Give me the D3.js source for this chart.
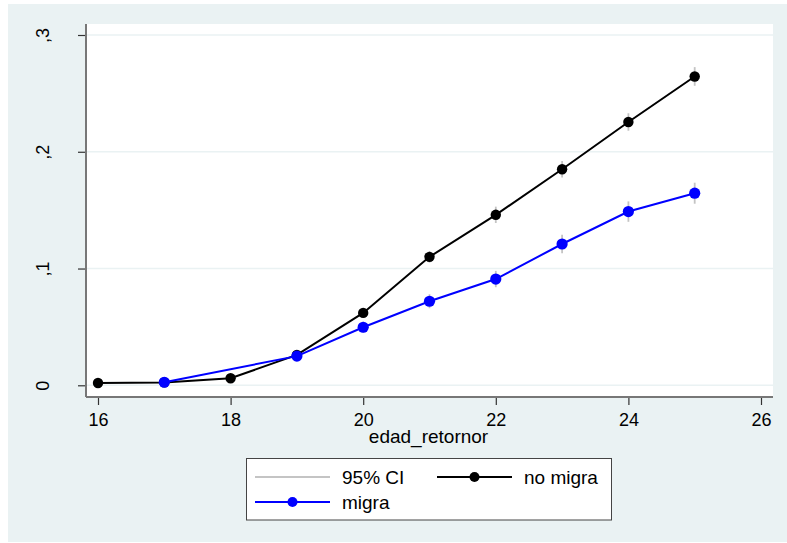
<!DOCTYPE html>
<html>
<head>
<meta charset="utf-8">
<script src="https://cdn.jsdelivr.net/npm/d3@7"></script>
<style>
  body { margin: 0; background: #fff; }
  svg { display: block; font-family: "Liberation Sans", Arial, sans-serif; }
</style>
</head>
<body>
<div id="chart"></div>
<script>
// chart size
const width = 787;
const height = 543;
const plot = {left: 86, right: 773, top: 24, bottom: 397};

// data
const ages = [16, 17, 18, 19, 20, 21, 22, 23, 24, 25];
const noMigra   = [0.002, 0.0025, 0.006, 0.026, 0.062, 0.110, 0.146, 0.185, 0.2255, 0.2645];
const noMigraLo = [0.001, 0.0015, 0.004, 0.023, 0.058, 0.105, 0.139, 0.178, 0.218, 0.2565];
const noMigraHi = [0.003, 0.0035, 0.008, 0.029, 0.066, 0.115, 0.153, 0.192, 0.233, 0.2725];

const migraAges = [17, 19, 20, 21, 22, 23, 24, 25];
const migra   = [0.0026, 0.025, 0.0497, 0.072, 0.091, 0.121, 0.1488, 0.1645];
const migraLo = [0.0006, 0.021, 0.045, 0.066, 0.084, 0.113, 0.140, 0.1555];
const migraHi = [0.0046, 0.029, 0.0545, 0.078, 0.098, 0.129, 0.1575, 0.1735];

const xTicks = [16, 18, 20, 22, 24, 26];
const yTicks = [0, 0.1, 0.2, 0.3];

const seriesNames = ["no migra", "migra"];
const ciLabel = "95% CI";
const xTitle = "edad_retornor";

const svg = d3.select("#chart")
  .append("svg")
  .attr("width", width)
  .attr("height", height);

// outer graph region
svg.append("rect")
  .attr("x", 8).attr("y", 4)
  .attr("width", width - 8).attr("height", 538)
  .attr("fill", "#EAF2F3");

// plot region
svg.append("rect")
  .attr("x", plot.left).attr("y", plot.top)
  .attr("width", plot.right - plot.left).attr("height", plot.bottom - plot.top)
  .attr("fill", "#fff");

let xScale = d3.scaleLinear().domain([16, 26]).range([98, 761]);
let yScale = d3.scaleLinear().domain([0, 0.3]).range([385.3, 35]);

// gridlines
svg.append("g")
  .selectAll("line")
  .data(yTicks)
  .enter()
  .append("line")
    .attr("x1", plot.left).attr("x2", plot.right)
    .attr("y1", d => yScale(d)).attr("y2", d => yScale(d))
    .attr("stroke", "#EAF2F3")
    .attr("stroke-width", 1.5);

// y axis
const yAxis = svg.append("g")
  .attr("transform", `translate(${plot.left},0)`)
  .call(d3.axisLeft(yScale)
          .tickValues(yTicks)
          .tickSize(8)
          .tickPadding(0)
          .tickFormat(d => d === 0 ? "0" : d3.format(".1f")(d).replace("0.", ",")));
yAxis.select(".domain").remove();
yAxis.selectAll(".tick line").attr("stroke", "#333").attr("stroke-width", 1.2);
yAxis.selectAll(".tick text")
  .attr("x", 0).attr("dy", 0)
  .attr("transform", "translate(-37,0) rotate(-90)")
  .attr("text-anchor", "middle")
  .attr("fill", "#000")
  .attr("font-size", 18);
svg.append("line")
  .attr("x1", plot.left).attr("x2", plot.left)
  .attr("y1", plot.top).attr("y2", plot.bottom)
  .attr("stroke", "#777").attr("stroke-width", 2);

// x axis
const xAxis = svg.append("g")
  .attr("transform", `translate(0,${plot.bottom})`)
  .call(d3.axisBottom(xScale)
          .tickValues(xTicks)
          .tickSize(8)
          .tickPadding(0)
          .tickFormat(d3.format("d")));
xAxis.select(".domain").remove();
xAxis.selectAll(".tick line").attr("stroke", "#333").attr("stroke-width", 1.2);
xAxis.selectAll(".tick text")
  .attr("y", 29).attr("dy", 0)
  .attr("fill", "#000")
  .attr("font-size", 18);
svg.append("line")
  .attr("x1", plot.left).attr("x2", plot.right)
  .attr("y1", plot.bottom).attr("y2", plot.bottom)
  .attr("stroke", "#777").attr("stroke-width", 2);

svg.append("text")
  .attr("x", (plot.left + plot.right) / 2 - 1)
  .attr("y", 443)
  .attr("text-anchor", "middle")
  .attr("font-size", 19)
  .text(xTitle);

// confidence intervals
function drawCI(xs, lo, hi) {
  svg.append("g")
    .selectAll("line")
    .data(xs)
    .enter()
    .append("line")
      .attr("x1", d => xScale(d)).attr("x2", d => xScale(d))
      .attr("y1", (d, i) => yScale(lo[i])).attr("y2", (d, i) => yScale(hi[i]))
      .attr("stroke", "#c4c4c4")
      .attr("stroke-width", 1.8);
}
drawCI(ages, noMigraLo, noMigraHi);
drawCI(migraAges, migraLo, migraHi);

// series lines and markers
function drawSeries(xs, ys, color, r) {
  const line = d3.line()
    .x((d, i) => xScale(xs[i]))
    .y(d => yScale(d));
  svg.append("path")
    .datum(ys)
    .attr("fill", "none")
    .attr("stroke", color)
    .attr("stroke-width", 2)
    .attr("d", line);
  svg.append("g")
    .selectAll("circle")
    .data(ys)
    .enter()
    .append("circle")
      .attr("cx", (d, i) => xScale(xs[i]))
      .attr("cy", d => yScale(d))
      .attr("r", r)
      .attr("fill", color);
}
drawSeries(ages, noMigra, "#000", 5.2);
drawSeries(migraAges, migra, "#0000ff", 5.6);

// legend
const legend = svg.append("g");
legend.append("rect")
  .attr("x", 246.5).attr("y", 458.5)
  .attr("width", 365).attr("height", 61.5)
  .attr("fill", "#fff")
  .attr("stroke", "#444")
  .attr("stroke-width", 1);

const legendItems = [
  {label: ciLabel, color: "#c4c4c4", marker: false, x: 255, y: 477},
  {label: seriesNames[0], color: "#000", marker: true, x: 437, y: 477},
  {label: seriesNames[1], color: "#0000ff", marker: true, x: 255, y: 502}
];
legendItems.forEach(d => {
  legend.append("line")
    .attr("x1", d.x).attr("x2", d.x + 75)
    .attr("y1", d.y).attr("y2", d.y)
    .attr("stroke", d.color)
    .attr("stroke-width", d.marker ? 2 : 1.8);
  if (d.marker) {
    legend.append("circle")
      .attr("cx", d.x + 37.5).attr("cy", d.y)
      .attr("r", 5)
      .attr("fill", d.color);
  }
  legend.append("text")
    .attr("x", d.x + 87)
    .attr("y", d.y + 6.5)
    .attr("font-size", 19)
    .text(d.label);
});
</script>
</body>
</html>
